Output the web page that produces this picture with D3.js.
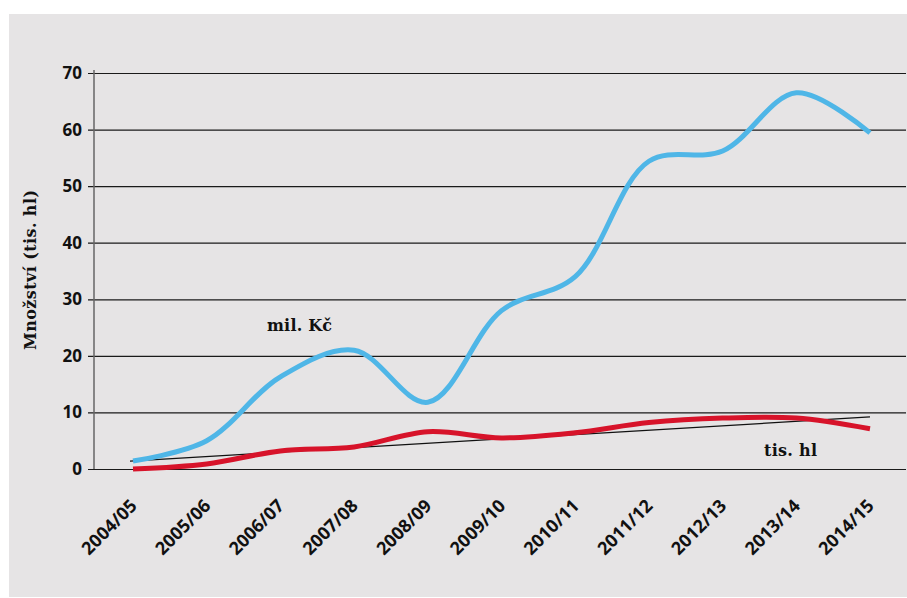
<!DOCTYPE html>
<html>
<head>
<meta charset="utf-8">
<script src="https://cdn.jsdelivr.net/npm/d3@7"></script>
<style>
  body { margin: 0; background: #fff; }
  svg { display: block; }
</style>
</head>
<body>
<div id="chart"></div>
<script>
// data
var seasons = ["2004/05", "2005/06", "2006/07", "2007/08", "2008/09", "2009/10",
               "2010/11", "2011/12", "2012/13", "2013/14", "2014/15"];
var milKc = [1.4, 5.0, 16.3, 21.0, 11.8, 28.0, 34.0, 54.4, 56.2, 66.5, 59.4];
var tisHl = [0.0, 0.9, 3.2, 3.9, 6.6, 5.5, 6.4, 8.2, 9.0, 9.0, 7.1];
var trend = [1.4, 9.2];
var yTicks = [0, 10, 20, 30, 40, 50, 60, 70];

var width = 907;
var height = 598;

var marginTop = 73;
var marginRight = 37;
var marginBottom = 129;
var marginLeft = 133;

var svg = d3.select("#chart").append("svg")
    .attr("width", width)
    .attr("height", height);

// gray panel
svg.append("rect")
    .attr("x", 9).attr("y", 14)
    .attr("width", width - 9).attr("height", 583)
    .attr("fill", "#e6e4e5");

// scales
var x = d3.scalePoint()
    .domain(seasons)
    .range([marginLeft, width - marginRight]);

var y = d3.scaleLinear()
    .domain([0, 70])
    .range([height - marginBottom, marginTop]);

// gridlines + y labels
var gy = svg.append("g")
    .attr("transform", "translate(94,0)")
    .call(d3.axisLeft(y).tickValues(yTicks).tickSize(-(width - 1 - 94)).tickPadding(12))
    .call(g => g.select(".domain").remove());

gy.selectAll(".tick line")
    .attr("x1", -6)
    .attr("stroke", "#1a1a1a")
    .attr("stroke-width", 1.2);

gy.selectAll(".tick text")
    .attr("font-family", "Open Sans")
    .attr("font-weight", 700)
    .attr("font-size", 17)
    .attr("fill", "#111");

// vertical axis line
svg.append("line")
    .attr("x1", 94).attr("x2", 94)
    .attr("y1", y(70) - 3).attr("y2", y(0))
    .attr("stroke", "#666")
    .attr("stroke-width", 1.5);

// x labels, rotated
svg.append("g")
    .selectAll("text")
    .data(seasons)
    .join("text")
    .attr("transform", d => `translate(${x(d) + 5},${y(0) + 38}) rotate(-45)`)
    .attr("text-anchor", "end")
    .attr("font-family", "Open Sans")
    .attr("font-weight", 700)
    .attr("font-size", 18)
    .attr("fill", "#111")
    .text(d => d);

// trend line
svg.append("line")
    .attr("x1", x(seasons[0]) - 3)
    .attr("y1", y(trend[0]))
    .attr("x2", x(seasons[seasons.length - 1]))
    .attr("y2", y(trend[1]))
    .attr("stroke", "#111")
    .attr("stroke-width", 1.2);

var line = d3.line()
    .x((d, i) => x(seasons[i]))
    .y(d => y(d))
    .curve(d3.curveCatmullRom.alpha(0.5));

svg.append("path")
    .datum(tisHl)
    .attr("d", line)
    .attr("fill", "none")
    .attr("stroke", "#d7132a")
    .attr("stroke-width", 5);

svg.append("path")
    .datum(milKc)
    .attr("d", line)
    .attr("fill", "none")
    .attr("stroke", "#4fb6e7")
    .attr("stroke-width", 5);

// series labels
svg.append("text")
    .attr("x", 267).attr("y", 331)
    .attr("textLength", 65)
    .attr("font-family", "DejaVu Serif")
    .attr("font-weight", 700)
    .attr("font-size", 16)
    .attr("fill", "#111")
    .text("mil. Kč");

svg.append("text")
    .attr("x", 764).attr("y", 456)
    .attr("textLength", 53)
    .attr("font-family", "DejaVu Serif")
    .attr("font-weight", 700)
    .attr("font-size", 16)
    .attr("fill", "#111")
    .text("tis. hl");

// y title
svg.append("text")
    .attr("transform", "translate(36,270) rotate(-90)")
    .attr("text-anchor", "middle")
    .attr("textLength", 160)
    .attr("font-family", "DejaVu Serif")
    .attr("font-weight", 700)
    .attr("font-size", 16)
    .attr("fill", "#111")
    .text("Množství (tis. hl)");
</script>
</body>
</html>
